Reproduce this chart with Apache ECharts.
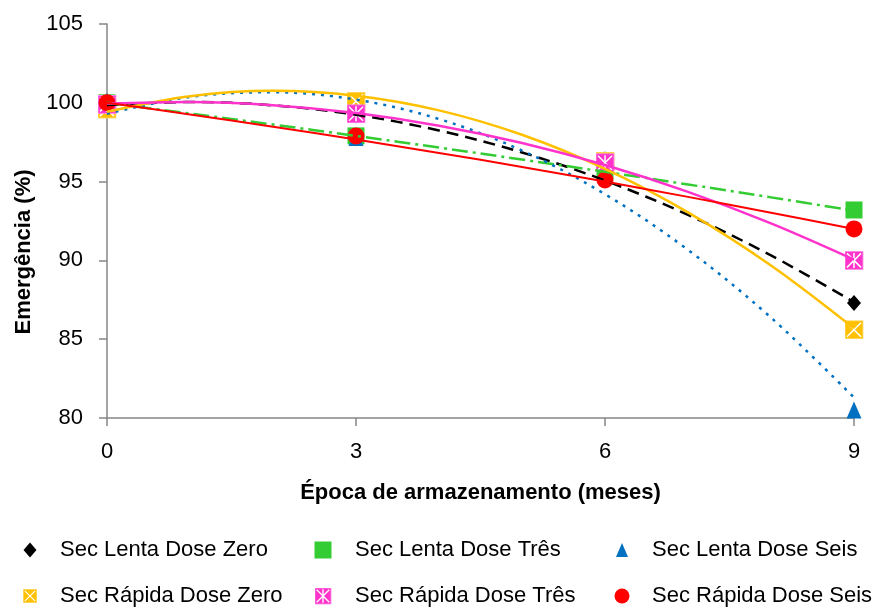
<!DOCTYPE html>
<html>
<head>
<meta charset="utf-8">
<script src="https://cdn.jsdelivr.net/npm/echarts@6/dist/echarts.min.js"></script>
<style>
  html, body { margin: 0; padding: 0; background: #ffffff; }
  #chart { width: 874px; height: 609px; }
</style>
</head>
<body>
<div id="chart"></div>
<script>
// Storage months where emergence was measured
const months = [0, 3, 6, 9];
// Months at which the fitted trend curves are sampled
const trendMonths = [0, 1, 2, 3, 4, 5, 6, 7, 8, 9];

const seriesNames = [
  'Sec Lenta Dose Zero',
  'Sec Lenta Dose Três',
  'Sec Lenta Dose Seis',
  'Sec Rápida Dose Zero',
  'Sec Rápida Dose Três',
  'Sec Rápida Dose Seis'
];

// Emergence (%) per treatment at 0, 3, 6 and 9 months
const lentaZero  = [100.0, 99.2, 95.1, 87.3];
const lentaTres  = [100.0, 97.9, 95.7, 93.2];
const lentaSeis  = [100.1, 97.8, 96.4, 80.5];
const rapidaZero = [99.6, 100.1, 96.3, 85.6];
const rapidaTres = [99.9, 99.3, 96.2, 90.0];
const rapidaSeis = [100.0, 97.9, 95.1, 92.0];

// Polynomial trend curves, sampled at trendMonths
const lentaZeroTrend  = [99.86, 100.05, 99.84, 99.24, 98.24, 96.85, 95.07, 92.89, 90.32, 87.35];
const lentaTresTrend  = [100.0, 99.32, 98.62, 97.90, 97.16, 96.40, 95.62, 94.82, 94.00, 93.16];
const lentaSeisTrend  = [99.30, 100.37, 100.67, 100.20, 98.97, 96.97, 94.20, 90.67, 86.37, 81.30];
const rapidaZeroTrend = [99.43, 100.42, 100.76, 100.45, 99.52, 97.97, 95.81, 93.05, 89.68, 85.69];
const rapidaTresTrend = [99.95, 100.05, 99.85, 99.35, 98.55, 97.45, 96.05, 94.35, 92.35, 90.05];
const rapidaSeisTrend = [100.0, 99.26, 98.48, 97.67, 96.82, 95.93, 95.00, 94.03, 93.03, 91.99];

// Axis ticks
const xTicks = [0, 3, 6, 9];
const yTicks = [80, 85, 90, 95, 100, 105];

const values = [lentaZero, lentaTres, lentaSeis, rapidaZero, rapidaTres, rapidaSeis];
const trends = [lentaZeroTrend, lentaTresTrend, lentaSeisTrend, rapidaZeroTrend, rapidaTresTrend, rapidaSeisTrend];

// Square marker crossed by white diagonals (optionally with a centre bar)
function crossBox(fill, bar) {
  const svg = '<svg xmlns="http://www.w3.org/2000/svg" width="38" height="38" viewBox="0 0 38 38">' +
    '<rect x="0" y="0" width="38" height="38" fill="' + fill + '"/>' +
    '<rect x="1" y="1" width="36" height="36" fill="none" stroke="#ffffff" stroke-opacity="0.45" stroke-width="2"/>' +
    '<path d="M5 5L33 33M33 5L5 33' + (bar ? 'M19 4V34' : '') + '" stroke="#ffffff" stroke-width="3" fill="none"/>' +
    '</svg>';
  return 'image://data:image/svg+xml;charset=utf-8,' + encodeURIComponent(svg);
}

const styles = [
  { color: '#000000', symbol: 'diamond', size: [14, 16], lineType: [12, 7], width: 2.5, legendSize: [13, 15] },
  { color: '#33CC33', symbol: 'rect', size: [17, 17], lineType: [16, 5, 3, 5], width: 2.5, legendSize: [17, 17] },
  { color: '#0070C0', symbol: 'triangle', size: [15, 17], lineType: [3, 6], width: 2.5, legendSize: [12, 14] },
  { color: '#FFC000', symbol: crossBox('#FFC000', false), size: [19, 19], lineType: 'solid', width: 2.5, legendSize: [14, 14] },
  { color: '#FF33CC', symbol: crossBox('#FF33CC', true), size: [19, 19], lineType: 'solid', width: 2.5, legendSize: [17, 17] },
  { color: '#FF0000', symbol: 'circle', size: [17, 17], lineType: 'solid', width: 2, legendSize: [15, 15] }
];

const series = [];
seriesNames.forEach(function (name, i) {
  const st = styles[i];
  series.push({
    name: name,
    type: 'scatter',
    data: months.map(function (m, j) { return [m, values[i][j]]; }),
    symbol: st.symbol,
    symbolSize: st.size,
    itemStyle: { color: st.color, opacity: 1 },
    z: 2,
    silent: true
  });
});
seriesNames.forEach(function (name, i) {
  const st = styles[i];
  series.push({
    name: name + ' (tendência)',
    type: 'line',
    data: trendMonths.map(function (m, j) { return [m, trends[i][j]]; }),
    smooth: 0.35,
    showSymbol: false,
    symbol: 'none',
    lineStyle: { color: st.color, width: st.width, type: st.lineType },
    z: 3,
    silent: true
  });
});

// Legend: two rows of three, each entry placed on its own
const colCenter = [30, 323, 622];
const colText = [60, 355, 652];
const rowCenter = [550, 596];
const legends = seriesNames.map(function (name, i) {
  const st = styles[i];
  const w = st.legendSize[0], h = st.legendSize[1];
  const left = colCenter[i % 3] - w / 2;
  const pad = colText[i % 3] - (left + w + 5);
  return {
    data: [{ name: name, icon: st.symbol }],
    left: left,
    top: rowCenter[Math.floor(i / 3)] - 12,
    padding: 0,
    itemWidth: w,
    itemHeight: h,
    selectedMode: false,
    textStyle: {
      fontFamily: 'Liberation Sans',
      fontSize: 22,
      color: '#000000',
      padding: [0, 0, 0, pad],
      lineHeight: 24
    }
  };
});

const axisColor = '#868686';
const chart = echarts.init(document.getElementById('chart'), null, { renderer: 'canvas' });
chart.setOption({
  animation: false,
  backgroundColor: '#ffffff',
  grid: { left: 107, right: 20, top: 24, bottom: 191, containLabel: false },
  legend: legends,
  xAxis: {
    type: 'value',
    min: xTicks[0],
    max: xTicks[xTicks.length - 1],
    interval: 3,
    name: 'Época de armazenamento (meses)',
    nameLocation: 'middle',
    nameGap: 64,
    nameTextStyle: { fontFamily: 'Liberation Sans', fontWeight: 'bold', fontSize: 22, color: '#000000' },
    axisLine: { show: true, onZero: false, lineStyle: { color: axisColor, width: 1.5 } },
    axisTick: { show: true, length: 8, lineStyle: { color: axisColor, width: 1.5 } },
    axisLabel: { fontFamily: 'Liberation Sans', fontSize: 22, color: '#000000', margin: 23 },
    splitLine: { show: false }
  },
  yAxis: {
    type: 'value',
    min: yTicks[0],
    max: yTicks[yTicks.length - 1],
    interval: 5,
    name: 'Emergência (%)',
    nameLocation: 'middle',
    nameRotate: 90,
    nameGap: 68,
    nameTextStyle: {
      fontFamily: 'Liberation Sans', fontWeight: 'bold', fontSize: 22, color: '#000000',
      padding: [0, 62, 0, 0]
    },
    axisLine: { show: true, onZero: false, lineStyle: { color: axisColor, width: 1.5 } },
    axisTick: { show: true, length: 8, lineStyle: { color: axisColor, width: 1.5 } },
    axisLabel: { fontFamily: 'Liberation Sans', fontSize: 22, color: '#000000', margin: 24 },
    splitLine: { show: false }
  },
  series: series
});
</script>
</body>
</html>
